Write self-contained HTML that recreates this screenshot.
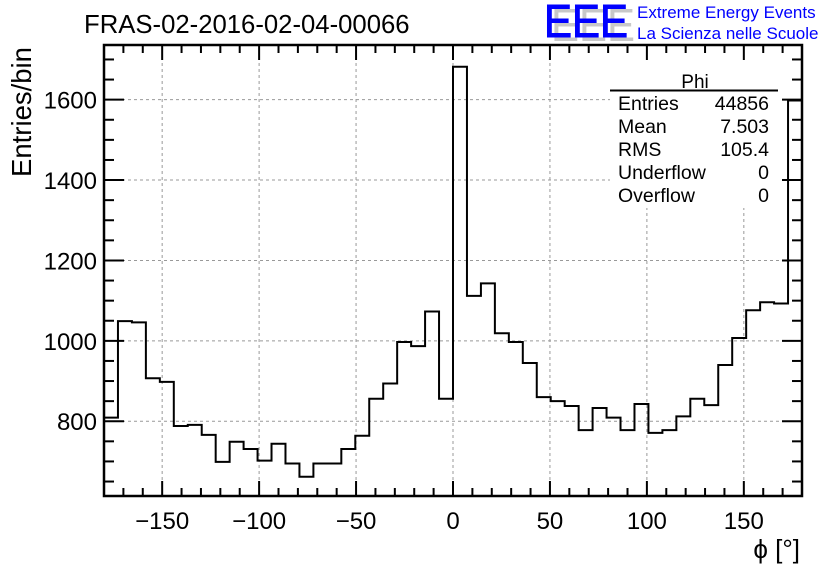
<!DOCTYPE html>
<html><head><meta charset="utf-8"><style>
body{margin:0;background:#fff;}
svg text{font-family:"Liberation Sans",sans-serif;}
</style></head><body>
<svg id="c" width="836" height="572" xmlns="http://www.w3.org/2000/svg">
<rect width="836" height="572" fill="#fff"/>
<g id="grid"></g>
<g id="hist"></g>
<g id="stats">
<rect x="610" y="62" width="169" height="146" fill="#fff"/>
<text x="695" y="88" font-size="19" text-anchor="middle">Phi</text>
<line x1="610" y1="90.5" x2="778" y2="90.5" stroke="#000" stroke-width="2"/>
<text x="618" y="110" font-size="19.5">Entries</text><text x="769" y="110" font-size="19.5" text-anchor="end">44856</text>
<text x="618" y="133" font-size="19.5">Mean</text><text x="769" y="133" font-size="19.5" text-anchor="end">7.503</text>
<text x="618" y="156" font-size="19.5">RMS</text><text x="769" y="156" font-size="19.5" text-anchor="end">105.4</text>
<text x="618" y="179" font-size="19.5">Underflow</text><text x="769" y="179" font-size="19.5" text-anchor="end">0</text>
<text x="618" y="202" font-size="19.5">Overflow</text><text x="769" y="202" font-size="19.5" text-anchor="end">0</text>
</g>
<g id="axes"></g>
<text x="84" y="33" font-size="25.7">FRAS-02-2016-02-04-00066</text>
<text transform="translate(31,112) rotate(-90)" font-size="27.5" text-anchor="middle">Entries/bin</text>
<text x="800" y="558" font-size="26" text-anchor="end">ϕ [°]</text>
<g>
<text x="551" y="41" font-size="46" fill="#c8c8c8" textLength="84" lengthAdjust="spacingAndGlyphs">EEE</text>
<text x="544" y="37" font-size="46" fill="#0000ff" stroke="#0000ff" stroke-width="1" textLength="84" lengthAdjust="spacingAndGlyphs">EEE</text>
<text x="637" y="18" font-size="17" fill="#0000ff">Extreme Energy Events</text>
<text x="637" y="39" font-size="17" fill="#0000ff">La Scienza nelle Scuole</text>
</g>
</svg>
<script>
const binLow = -180, binWidth = 7.2;
const counts = [809,1049,1046,907,898,788,791,766,699,749,731,702,744,695,662,695,695,731,764,856,894,997,987,1073,856,1682,1112,1143,1019,997,945,860,850,838,778,833,809,778,843,771,778,812,856,840,940,1007,1076,1096,1093,1598];
const xTicks = [-150,-100,-50,0,50,100,150];
const yTicks = [800,1000,1200,1400,1600];
const xMin=-180,xMax=180,yMin=614,yMax=1736;
const L=104,R=802,T=45,B=496;
const sx=v=>L+(v-xMin)/(xMax-xMin)*(R-L);
const sy=v=>B-(v-yMin)/(yMax-yMin)*(B-T);
const NS="http://www.w3.org/2000/svg";
function mk(t,a,p){const e=document.createElementNS(NS,t);for(const k in a)e.setAttribute(k,a[k]);p.appendChild(e);return e;}
const grid=document.getElementById('grid'),axes=document.getElementById('axes'),hist=document.getElementById('hist');
xTicks.forEach(v=>{const l=mk('line',{x1:sx(v),x2:sx(v),y1:T,y2:B,stroke:'#999','stroke-dasharray':'3,3'},grid);

});
yTicks.forEach(v=>{const l=mk('line',{x1:L,x2:R,y1:sy(v),y2:sy(v),stroke:'#999','stroke-dasharray':'3,3'},grid);

});
let d='M'+sx(binLow)+','+B;
counts.forEach((c,i)=>{const x0=sx(binLow+i*binWidth),x1=sx(binLow+(i+1)*binWidth);d+=` L${x0},${sy(c)} L${x1},${sy(c)}`;});
const p=mk('path',{d:d,fill:'none',stroke:'#000','stroke-width':2},hist);


const f=mk('rect',{x:L,y:T,width:R-L,height:B-T,fill:'none',stroke:'#000','stroke-width':2.5},axes);


for(let v=-180;v<=180;v+=10){const maj=v%50===0;const len=maj?15:8;
mk('line',{x1:sx(v),x2:sx(v),y1:B,y2:B-len,stroke:'#000','stroke-width':2},axes);
mk('line',{x1:sx(v),x2:sx(v),y1:T,y2:T+len,stroke:'#000','stroke-width':2},axes);}
for(let v=650;v<=1700;v+=50){const maj=v%200===0;const len=maj?20:10;
mk('line',{x1:L,x2:L+len,y1:sy(v),y2:sy(v),stroke:'#000','stroke-width':2},axes);
mk('line',{x1:R,x2:R-len,y1:sy(v),y2:sy(v),stroke:'#000','stroke-width':2},axes);}
xTicks.forEach(v=>{const t=mk('text',{x:sx(v),y:529,'font-size':24,'text-anchor':'middle'},axes);t.textContent=(v<0?'\u2212'+(-v):v);

});
yTicks.forEach(v=>{const t=mk('text',{x:97,y:sy(v)+9,'font-size':24,'text-anchor':'end'},axes);t.textContent=v;

});
</script>
</body></html>
